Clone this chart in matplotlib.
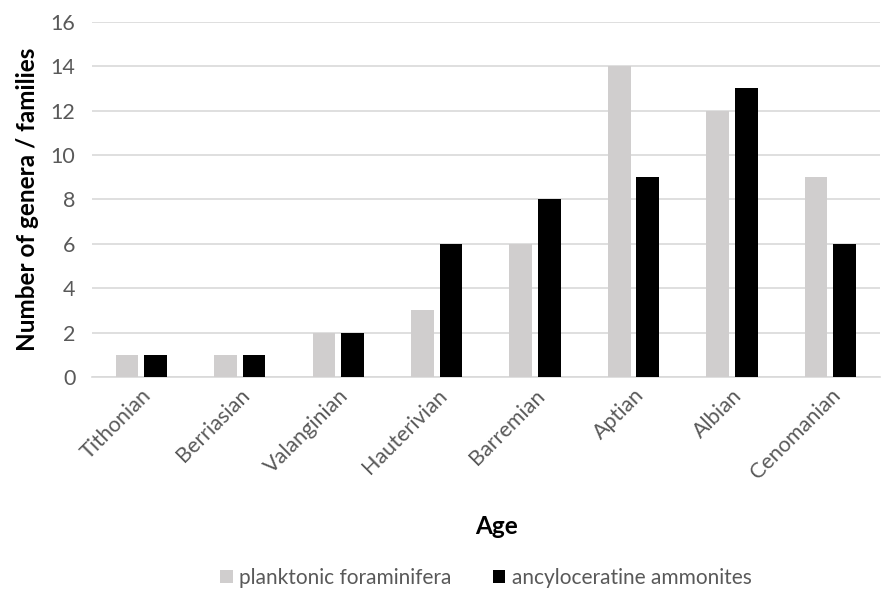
import matplotlib
matplotlib.use("Agg")
import matplotlib.pyplot as plt
import numpy as np

plt.rcParams['font.family'] = ['Lato', 'DejaVu Sans']

ages = ["Tithonian", "Berriasian", "Valanginian", "Hauterivian",
        "Barremian", "Aptian", "Albian", "Cenomanian"]
forams = [1, 1, 2, 3, 6, 14, 12, 9]
ammonites = [1, 1, 2, 6, 8, 9, 13, 6]

fig = plt.figure(figsize=(8.96, 6.08), dpi=100)
ax = fig.add_axes([0.1027, 0.380, 0.879, 0.584])

x = np.arange(len(ages))
w = 0.23
ax.bar(x - 0.145, forams, w, color="#D0CECE", label="planktonic foraminifera", zorder=3)
ax.bar(x + 0.145, ammonites, w, color="#000000", label="ancyloceratine ammonites", zorder=3)

ax.set_xlim(-0.5, len(ages) - 0.5)
ax.set_ylim(0, 16)
ax.set_yticks(range(0, 17, 2))
ax.yaxis.grid(True, color="#D9D9D9", linewidth=1.2, zorder=0)
ax.set_axisbelow(True)
for s in ["top", "right", "left"]:
    ax.spines[s].set_visible(False)
ax.spines["bottom"].set_color("#D9D9D9")
ax.spines["bottom"].set_linewidth(1.2)
ax.tick_params(axis="both", length=0, labelsize=15.5, labelcolor="#595959")
ax.tick_params(axis="y", pad=12)
ax.tick_params(axis="x", pad=6)
ax.set_xticks(x)
ax.set_xticklabels(ages, rotation=45, ha="right", rotation_mode="anchor")

ax.set_ylabel("Number of genera / families", fontsize=17.5, fontweight="bold", labelpad=8)
ax.set_xlabel("Age", fontsize=17.5, fontweight="bold")
ax.xaxis.set_label_coords(0.513, -0.39)

ax.legend(loc="center", bbox_to_anchor=(0.5, -0.565), ncol=2, frameon=False,
          fontsize=15, handlelength=0.6, handleheight=0.6, handletextpad=0.3,
          columnspacing=2.0, labelcolor="#595959")

fig.savefig("out.png", dpi=100)
